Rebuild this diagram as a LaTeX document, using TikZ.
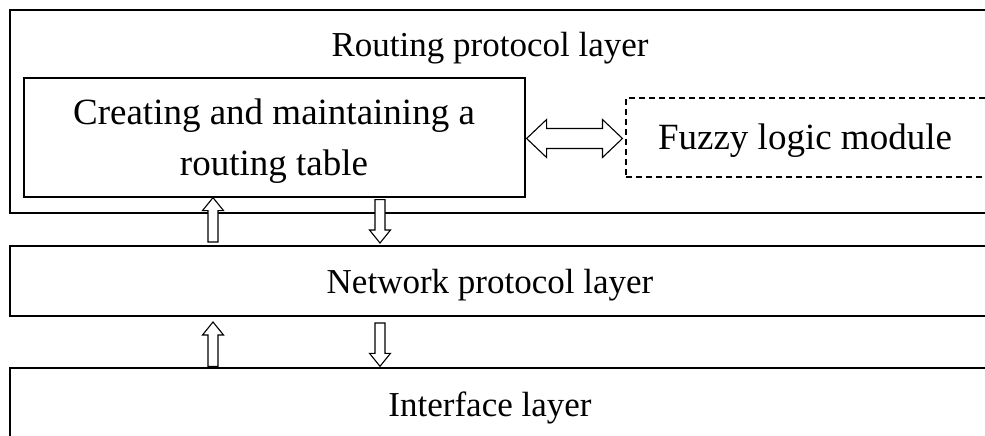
\documentclass[tikz,border=0pt]{standalone}
\usepackage{fontspec}
\setmainfont{Liberation Serif}
\usetikzlibrary{calc}
\begin{document}
\begin{tikzpicture}[x=1pt,y=-1pt,
  layer/.style={draw,line width=1.4pt,inner sep=0pt},
  box/.style={draw,line width=1.2pt,inner sep=0pt},
  dbox/.style={draw,line width=1.1pt,dash pattern=on 6pt off 4pt,inner sep=0pt},
  lbl/.style={font=\fontsize{35}{50}\selectfont,align=center,inner sep=0pt},
  biglbl/.style={font=\fontsize{37}{51}\selectfont,align=center,inner sep=0pt},
  harrow/.style={draw,line width=1.1pt,fill=white,line join=miter}]
\useasboundingbox (0,0) rectangle (985,436);
% layers
\node[layer,minimum width=985pt,minimum height=203pt] (route) at (502.5,111.5) {};
\node[lbl] (rtitle) at (490,48) {Routing protocol layer};
\node[box,minimum width=501pt,minimum height=119pt] (inner) at (274.5,137.5) {};
\node[biglbl] (innertext) at (274,141) {Creating and maintaining a\\routing table};
\node[dbox,minimum width=380pt,minimum height=79pt] (fuzzy) at (816,137.5) {};
\node[biglbl] (fuzzytext) at (805,141) {Fuzzy logic module};
\node[layer,minimum width=985pt,minimum height=70pt] (net) at (502.5,281) {};
\node[lbl] (nettext) at (490,285) {Network protocol layer};
\node[layer,minimum width=985pt,minimum height=90pt] (iface) at (502.5,413) {};
\node[lbl] (ifacetext) at (490,408) {Interface layer};
% double hollow arrow between inner and fuzzy
\coordinate (dl) at ($(inner.east)+(1,1)$);
\coordinate (dr) at ($(fuzzy.west)+(-3,1)$);
\draw[harrow] (dl) -- ++(20,-19) -- ++(0,9) -- ($(dr)+(-20,-10)$) -- ++(0,-9) -- (dr)
  -- ++(-20,19) -- ++(0,-9) -- ($(dl)+(20,10)$) -- ++(0,9) -- cycle;
% vertical hollow arrows
\coordinate (u1b) at (213,242);
\coordinate (u1t) at (inner.south -| u1b);
\coordinate (d1t) at ($(inner.south -| 380,0)+(0,2)$);
\coordinate (d1b) at (380,243);
\coordinate (u2b) at ($(iface.north -| 213,0)+(0,-1)$);
\coordinate (u2t) at (213,322);
\coordinate (d2t) at (380,323);
\coordinate (d2b) at ($(iface.north -| 380,0)+(0,-1)$);
\foreach \b/\t in {u1b/u1t,u2b/u2t}{
  \draw[harrow] ($(\b)+(-5,0)$) -- ($(\t)+(-5,13)$) -- ($(\t)+(-10.5,13)$) -- (\t)
    -- ($(\t)+(10.5,13)$) -- ($(\t)+(5,13)$) -- ($(\b)+(5,0)$) -- cycle;
}
\foreach \t/\b in {d1t/d1b,d2t/d2b}{
  \draw[harrow] ($(\t)+(-5,0)$) -- ($(\b)+(-5,-13)$) -- ($(\b)+(-10.5,-13)$) -- (\b)
    -- ($(\b)+(10.5,-13)$) -- ($(\b)+(5,-13)$) -- ($(\t)+(5,0)$) -- cycle;
}
\end{tikzpicture}
\end{document}
